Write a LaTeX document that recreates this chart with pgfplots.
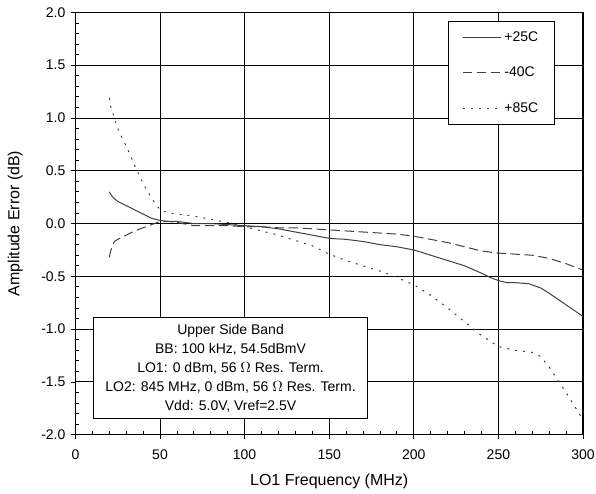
\documentclass[border=0pt]{standalone}
\usepackage{fontspec}
\setmainfont{Liberation Sans}
\usepackage{pgfplots}
\pgfplotsset{compat=1.18}

\begin{document}
\begin{tikzpicture}
\begin{axis}[
    scale only axis,
    width=381pt, height=317pt,
    xmin=0, xmax=300, ymin=-2, ymax=2,
    xtick={0,50,...,300},
    ytick={-2,-1.5,...,2},
    minor x tick num=4,
    minor y tick num=4,
    tick pos=left,
    tick align=inside,
    major tick length=-3.5pt,
    minor tick length=3pt,
    tick style={black, line width=0.6pt},
    xmajorgrids, ymajorgrids,
    major grid style={black, line width=0.7pt},
    axis line style={black, line width=0.8pt},
    ticklabel style={font=\fontsize{10.5}{12}\selectfont},
    /pgf/number format/assume math mode=true,
    yticklabel style={xshift=-4pt, /pgf/number format/fixed, /pgf/number format/fixed zerofill, /pgf/number format/precision=1},
    xticklabel style={yshift=-7.5pt, inner xsep=1pt},
    xlabel={LO1 Frequency (MHz)},
    ylabel={Amplitude Error (dB)},
    label style={font=\fontsize{12}{14}\selectfont},
    xlabel style={yshift=-4.3pt},
    ylabel style={yshift=7pt},
    legend style={at={(axis cs:220,1.92)}, anchor=north west, draw=black, line width=0.7pt,
        font=\fontsize{10.5}{12}\selectfont, row sep=14pt, inner xsep=10.5pt, inner ysep=5.5pt,
        cells={anchor=west}},
    legend image code/.code={\draw[#1] (0pt,0pt) -- (29pt,0pt);},
    every axis plot/.append style={line width=0.75pt, black!75},
]

\addplot[solid] coordinates {
(20,0.30) (22,0.25) (25,0.21) (30,0.17) (35,0.13) (40,0.09) (45,0.05) (50,0.03)
(55,0.02) (60,0.02) (70,0.00) (80,0.00) (90,-0.01) (100,-0.02) (110,-0.03)
(120,-0.05) (130,-0.08) (140,-0.11) (150,-0.14) (160,-0.15) (170,-0.17)
(180,-0.20) (190,-0.22) (200,-0.25) (210,-0.30) (220,-0.35) (230,-0.40)
(240,-0.47) (245,-0.51) (250,-0.54) (255,-0.56) (260,-0.56) (268,-0.57)
(275,-0.61) (280,-0.66) (290,-0.77) (300,-0.88)
};
\addlegendentry{+25C}

\addplot[dash pattern=on 7pt off 3.5pt] coordinates {
(20,-0.32) (21,-0.25) (23,-0.17) (25,-0.15) (30,-0.11) (35,-0.07) (40,-0.04)
(45,-0.01) (50,0.02) (55,0.02) (60,0.01) (70,-0.02) (80,-0.02) (90,-0.02)
(100,-0.03) (110,-0.03) (120,-0.04) (130,-0.04) (140,-0.05) (150,-0.06)
(160,-0.07) (170,-0.08) (180,-0.09) (190,-0.10) (200,-0.12) (210,-0.15)
(220,-0.18) (230,-0.22) (240,-0.26) (250,-0.28) (260,-0.29) (270,-0.30)
(280,-0.33) (290,-0.38) (300,-0.44)
};
\addlegendentry{-40C}

\addplot[dash pattern=on 1.5pt off 4.5pt] coordinates {
(20,1.19) (21,1.10) (23,1.00) (25,0.90) (28,0.80) (31,0.70) (35,0.55) (40,0.38)
(45,0.24) (50,0.13) (55,0.10) (60,0.09) (70,0.07) (80,0.04) (90,0.01)
(100,-0.03) (110,-0.07) (120,-0.11) (130,-0.16) (140,-0.21) (150,-0.29)
(160,-0.35) (170,-0.40) (180,-0.45) (190,-0.51) (200,-0.58) (210,-0.68)
(220,-0.80) (230,-0.93) (240,-1.06) (250,-1.165) (260,-1.20) (270,-1.22)
(275,-1.26) (280,-1.36) (285,-1.48) (290,-1.60) (300,-1.86)
};
\addlegendentry{+85C}

\node[draw=black, line width=0.7pt, fill=white, align=center,
      font=\fontsize{10.5}{14.25}\selectfont, minimum width=206pt, minimum height=76pt]
  at (axis cs:91.7,-1.371) {Upper Side Band\\ BB: 100 kHz, 54.5dBmV\\
  LO1: 0 dBm, 56 $\Omega$ Res. Term.\\ LO2: 845 MHz, 0 dBm, 56 $\Omega$ Res. Term.\\
  Vdd: 5.0V, Vref=2.5V};
\end{axis}
% a little white room on the left and top, as in the original
\path ([xshift=-2.6pt,yshift=2.25pt]current bounding box.north west);
\end{tikzpicture}
\end{document}
